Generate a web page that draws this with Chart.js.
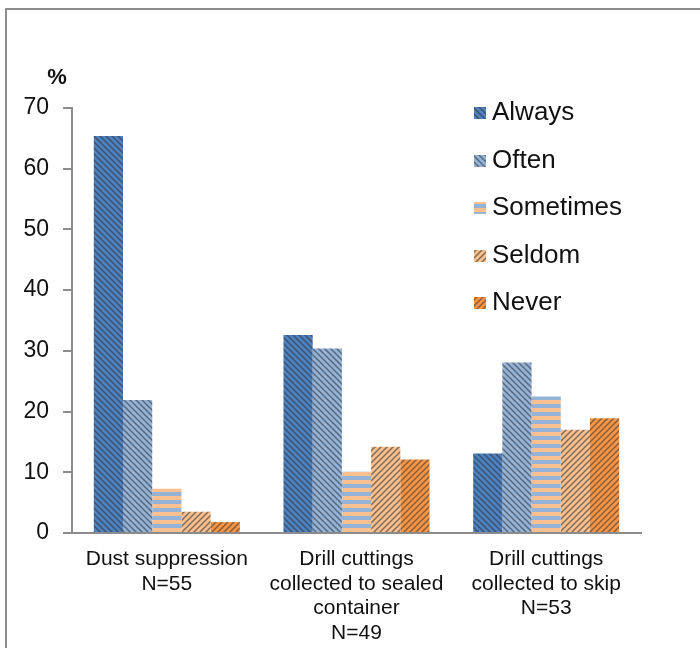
<!DOCTYPE html>
<html>
<head>
<meta charset="utf-8">
<script src="https://cdn.jsdelivr.net/npm/chart.js@4.4.1/dist/chart.umd.min.js"></script>
<style>
  html, body { margin: 0; padding: 0; background: #fff; overflow: hidden; }
  #wrap { position: relative; width: 700px; height: 648px; }
</style>
</head>
<body>
<div id="wrap"><canvas id="c" width="700" height="648"></canvas></div>
<script>
// ---- data ----
const categories = [
  ["Dust suppression", "N=55"],
  ["Drill cuttings", "collected to sealed", "container", "N=49"],
  ["Drill cuttings", "collected to skip", "N=53"]
];
const seriesNames = ["Always", "Often", "Sometimes", "Seldom", "Never"];
const always    = [65.4, 32.6, 13.1];
const often     = [21.9, 30.4, 28.1];
const sometimes = [7.3, 10.1, 22.5];
const seldom    = [3.5, 14.2, 17.0];
const never     = [1.8, 12.1, 18.9];
const yMin = 0, yMax = 70, yStep = 10;
const yUnit = "%";

// ---- patterns ----
function diagPattern(base, lineColor, dir) {
  const s = 6;
  const c = document.createElement('canvas');
  c.width = s; c.height = s;
  const x = c.getContext('2d');
  x.fillStyle = base; x.fillRect(0, 0, s, s);
  x.strokeStyle = lineColor; x.lineWidth = 1.5;
  x.beginPath();
  if (dir === 'down') {
    x.moveTo(-1, -1); x.lineTo(s + 1, s + 1);
    x.moveTo(-1, s - 1); x.lineTo(1, s + 1);
    x.moveTo(s - 1, -1); x.lineTo(s + 1, 1);
  } else {
    x.moveTo(-1, s + 1); x.lineTo(s + 1, -1);
    x.moveTo(-1, 1); x.lineTo(1, -1);
    x.moveTo(s - 1, s + 1); x.lineTo(s + 1, s - 1);
  }
  x.stroke();
  return c.getContext('2d').createPattern(c, 'repeat');
}
function stripePattern(a, b) {
  const c = document.createElement('canvas');
  c.width = 4; c.height = 8;
  const x = c.getContext('2d');
  x.fillStyle = a; x.fillRect(0, 0, 4, 4);
  x.fillStyle = b; x.fillRect(0, 4, 4, 4);
  return x.createPattern(c, 'repeat');
}
const fills = [
  diagPattern('#4f81bd', 'rgba(40,45,60,0.55)', 'down'),
  diagPattern('#95b3d7', 'rgba(50,55,65,0.6)', 'down'),
  stripePattern('#fac090', '#95b3d7'),
  diagPattern('#fac090', 'rgba(55,50,45,0.6)', 'up'),
  diagPattern('#f79646', 'rgba(55,45,40,0.55)', 'up')
];
const seriesData = [always, often, sometimes, seldom, never];

const datasets = seriesNames.map((n, i) => ({
  label: n,
  data: seriesData[i],
  backgroundColor: fills[i],
  borderWidth: 0,
  categoryPercentage: 0.77,
  barPercentage: 1.0
}));

const decorPlugin = {
  id: 'decor',
  beforeDraw(chart) {
    const c = chart.ctx;
    c.save();
    c.fillStyle = '#fff';
    c.fillRect(0, 0, chart.width, chart.height);
    c.strokeStyle = '#8c8c8c';
    c.lineWidth = 2;
    c.strokeRect(6, 9, 800, 800);
    c.restore();
  },
  afterDraw(chart) {
    const c = chart.ctx;
    c.save();
    // unit label
    c.fillStyle = '#111';
    c.font = 'bold 22px "Liberation Sans", Arial, sans-serif';
    c.textAlign = 'center';
    c.textBaseline = 'middle';
    c.fillText(yUnit, 57, 78);
    // legend
    c.font = '26px "Liberation Sans", Arial, sans-serif';
    c.textAlign = 'left';
    const ys = [112, 160, 207, 255, 302];
    chart.data.datasets.forEach((ds, i) => {
      const y = ys[i];
      c.fillStyle = ds.backgroundColor;
      c.fillRect(474, y - 5, 12, 12);
      c.fillStyle = '#111';
      c.fillText(ds.label, 492, y + 1);
    });
    c.restore();
  }
};

new Chart(document.getElementById('c'), {
  type: 'bar',
  data: { labels: categories, datasets },
  options: {
    responsive: false,
    animation: false,
    layout: { padding: { left: 0, top: 108, right: 59, bottom: 0 } },
    plugins: { legend: { display: false }, tooltip: { enabled: false } },
    scales: {
      x: {
        grid: { display: false, drawTicks: false },
        border: { display: true, color: '#8c8c8c', width: 2 },
        ticks: {
          color: '#111',
          padding: 14,
          maxRotation: 0,
          autoSkip: false,
          font: { family: '"Liberation Sans", Arial, sans-serif', size: 21, lineHeight: 1.17 }
        },
        afterFit(s) { s.height = 115; }
      },
      y: {
        min: yMin, max: yMax,
        grid: { drawOnChartArea: false, drawTicks: true, tickLength: 9, color: '#8c8c8c', lineWidth: 2 },
        border: { display: true, color: '#8c8c8c', width: 2 },
        ticks: {
          stepSize: yStep,
          color: '#111',
          padding: 14,
          font: { family: '"Liberation Sans", Arial, sans-serif', size: 23 }
        },
        afterFit(s) { s.width = 72; }
      }
    }
  },
  plugins: [decorPlugin]
});
</script>
</body>
</html>
